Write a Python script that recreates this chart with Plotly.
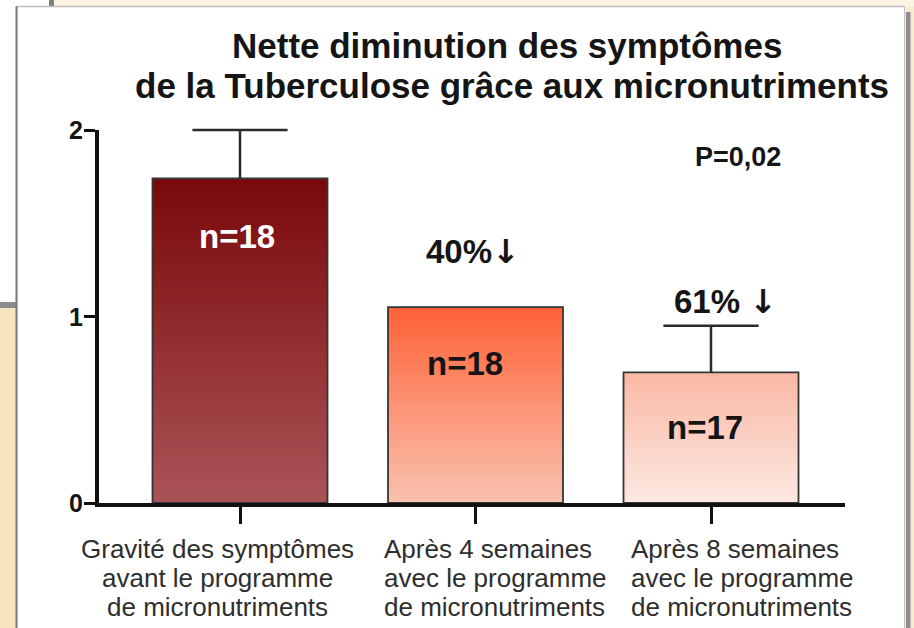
import plotly.graph_objects as go

# ---- data -------------------------------------------------------------
categories = [
    "Gravité des symptômes avant le programme de micronutriments",
    "Après 4 semaines avec le programme de micronutriments",
    "Après 8 semaines avec le programme de micronutriments",
]
label_lines = [
    ["Gravité des symptômes", "avant le programme", "de micronutriments"],
    ["Après 4 semaines", "avec le programme", "de micronutriments"],
    ["Après 8 semaines", "avec le programme", "de micronutriments"],
]
severity = [1.74, 1.05, 0.70]
error_up = [0.26, None, 0.25]
sample_sizes = [18, 18, 17]
reduction_pct = [None, "40%", "61% "]
p_value_label = "P=0,02"
y_ticks = [0, 1, 2]
title_lines = ["Nette diminution des symptômes",
               "de la Tuberculose grâce aux micronutriments"]

# ---- styling ----------------------------------------------------------
W, H = 914, 628
PL, PR, PT, PB = 99, 845, 130, 503          # plot area in pixels
FONT = "Liberation Sans, Arial, sans-serif"
INK = "#151515"
ERR = "#2a2a2a"

top_colors = [(122, 8, 10), (255, 98, 55), (249, 184, 164)]
bottom_colors = [(170, 84, 88), (249, 194, 176), (253, 233, 226)]

unit_x = 235.5                               # px per category step
first_center = 240.0
bar_width = 175 / unit_x
unit_y = (PB - PT) / 2.0
x_range = [(PL - first_center) / unit_x,
           (len(categories) - 1) + (PR - (first_center + 2 * unit_x)) / unit_x]


def px_x(x):
    return (x - PL) / (PR - PL)


def px_y(y):
    return (PB - y) / (PB - PT)


def mix(c0, c1, t):
    return "rgb({},{},{})".format(*[round(a + (b - a) * t) for a, b in zip(c0, c1)])


fig = go.Figure()

# vertical gradient fill: stacked-from-zero bars, tallest first
N = 90
for k in range(N):
    frac = (N - k) / N
    t = (k + 0.5) / N
    fig.add_trace(go.Bar(
        x=categories,
        y=[v * frac for v in severity],
        width=bar_width,
        marker=dict(color=[mix(a, b, t) for a, b in zip(top_colors, bottom_colors)],
                    line=dict(width=0)),
        hoverinfo="skip", showlegend=False,
    ))

# outline + error-bar stems (caps drawn separately, top end only)
fig.add_trace(go.Bar(
    x=categories, y=severity, width=bar_width,
    marker=dict(color="rgba(0,0,0,0)", line=dict(color="#353535", width=1.8)),
    error_y=dict(type="data", array=error_up, arrayminus=[0] * len(severity),
                 symmetric=False, color=ERR, thickness=2.5, width=0),
    hoverinfo="skip", showlegend=False,
))
fig.add_trace(go.Scatter(
    x=categories,
    y=[v + e if e is not None else None for v, e in zip(severity, error_up)],
    mode="markers", cliponaxis=False,
    marker=dict(symbol="line-ew", size=68, line=dict(color=ERR, width=2.5)),
    hoverinfo="skip", showlegend=False,
))

annotations = []

# title
for line, (cx, cy) in zip(title_lines, [(507, 45), (512, 86)]):
    annotations.append(dict(
        text=line, xref="paper", yref="paper", x=px_x(cx), y=px_y(cy),
        xanchor="center", yanchor="middle", showarrow=False,
        font=dict(family=FONT, size=35, color=INK, weight="bold")))

# y tick labels, set close to the tick marks
for v in y_ticks:
    annotations.append(dict(
        text=str(v), xref="paper", yref="y", x=px_x(85), y=v,
        xanchor="right", yanchor="middle", showarrow=False,
        font=dict(family=FONT, size=25, color=INK, weight="bold")))

# sample sizes inside the bars
n_pos = [(-3, 236), (-11, 363), (-6, 427)]
n_colors = ["#ffffff", INK, INK]
for i, n in enumerate(sample_sizes):
    dx, ypx = n_pos[i]
    annotations.append(dict(
        text=f"n={n}", x=categories[i], y=(PB - ypx) / unit_y, xshift=dx,
        xanchor="center", yanchor="middle", showarrow=False,
        font=dict(family=FONT, size=33, color=n_colors[i], weight="bold")))

# reduction labels with a heavy down arrow
red_pos = [None, (-3, 251), (14, 301)]
for i, pct in enumerate(reduction_pct):
    if pct is None:
        continue
    dx, ypx = red_pos[i]
    annotations.append(dict(
        text=pct + "<span style='font-family:DejaVu Sans'>↓</span>",
        x=categories[i], y=(PB - ypx) / unit_y, xshift=dx,
        xanchor="center", yanchor="middle", showarrow=False,
        font=dict(family=FONT, size=33, color=INK, weight="bold")))

# p-value
annotations.append(dict(
    text=p_value_label, xref="paper", yref="paper", x=px_x(738), y=px_y(157),
    xanchor="center", yanchor="middle", showarrow=False,
    font=dict(family=FONT, size=27, color=INK, weight="bold")))

# category labels, one line per annotation
col_anchor = [("center", 217), ("left", 382), ("left", 629)]
line_y = [549, 578, 607]
for lines, (anchor, xpx) in zip(label_lines, col_anchor):
    for line, ypx in zip(lines, line_y):
        annotations.append(dict(
            text=line, xref="paper", yref="paper", x=px_x(xpx), y=px_y(ypx),
            xanchor=anchor, yanchor="middle", showarrow=False,
            font=dict(family=FONT, size=26, color="#2e2e2e")))

# ---- page background: beige paper with a white panel -------------------
def rect(x0, y0, x1, y1, fill, line_color=None, lw=0):
    return dict(type="rect", xref="paper", yref="paper", layer="below",
                x0=px_x(x0), x1=px_x(x1), y0=px_y(y0), y1=px_y(y1),
                fillcolor=fill, line=dict(color=line_color or fill, width=lw))


def seg(x0, y0, x1, y1, color, lw):
    return dict(type="line", xref="paper", yref="paper", layer="below",
                x0=px_x(x0), x1=px_x(x1), y0=px_y(y0), y1=px_y(y1),
                line=dict(color=color, width=lw))


shapes = [
    rect(0, 0, W, 7, "#fcf3e3"),
    rect(0, 303, 17, H, "#f6e4bf"),
    rect(0, 0, 50, 303, "#ffffff"),
    rect(49, 0, 54, 7, "#7f7f7f"),
    rect(0, 302, 17, 308, "#8c8c8c"),
    rect(906, 12, 910.5, H, "#8e8e8e"),
    rect(16, 6.5, 904.5, H + 5, "#ffffff"),
    seg(16, 6.5, 904.5, 6.5, "#bdbdbd", 1.5),
    seg(16.5, 6.5, 16.5, H, "#777777", 2),
    seg(904.5, 6.5, 904.5, H, "#c4c4c4", 1),
]

fig.update_layout(
    width=W, height=H,
    margin=dict(l=PL, r=W - PR, t=PT, b=H - PB),
    paper_bgcolor="#f8ebd0",
    plot_bgcolor="rgba(0,0,0,0)",
    barmode="overlay",
    showlegend=False,
    annotations=annotations,
    shapes=shapes,
    xaxis=dict(
        type="category", range=x_range, showgrid=False, zeroline=False,
        showline=True, linecolor="#111111", linewidth=3.5,
        ticks="outside", ticklen=17, tickwidth=3, tickcolor="#111111",
        showticklabels=False, fixedrange=True,
    ),
    yaxis=dict(
        range=[0, 2], tickvals=y_ticks, showgrid=False, zeroline=False,
        showline=True, linecolor="#111111", linewidth=3.5,
        ticks="outside", ticklen=11, tickwidth=3, tickcolor="#111111",
        showticklabels=False, fixedrange=True,
    ),
)

fig.write_html("out.html")
